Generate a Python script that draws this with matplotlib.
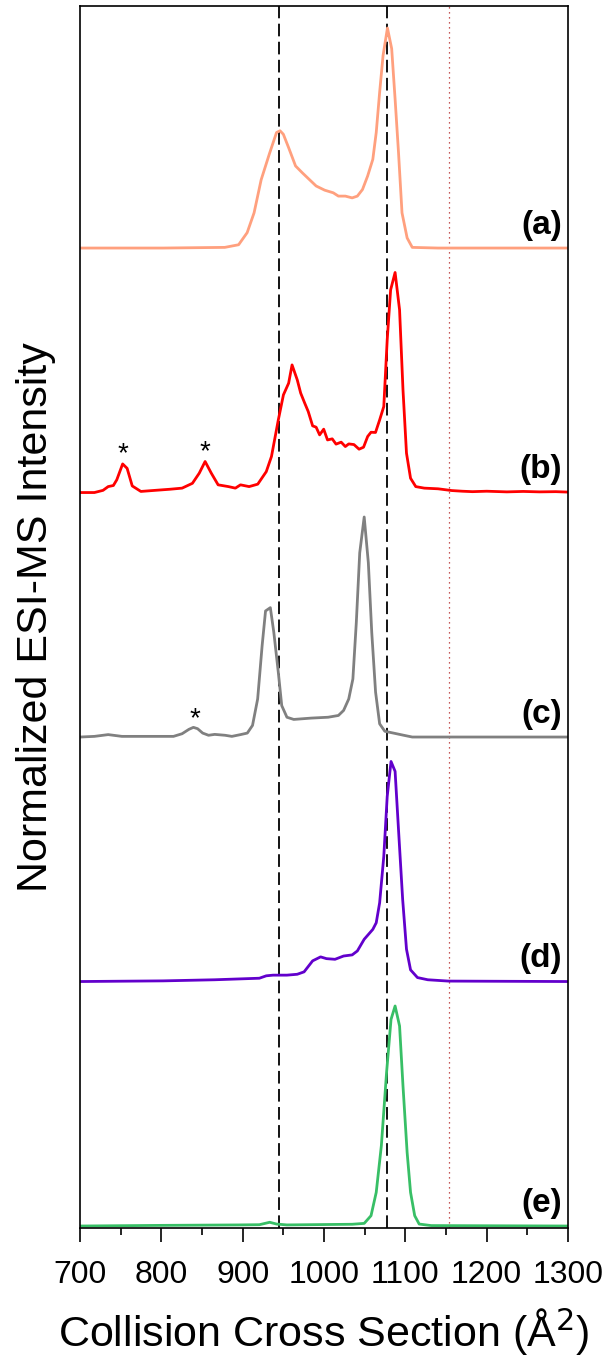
import numpy as np
import matplotlib
matplotlib.use("Agg")
import matplotlib.pyplot as plt

plt.rcParams['font.family'] = ['Liberation Sans', 'DejaVu Sans']

# trace (a)
ccs_a = [700, 802, 878, 895, 905.5, 914, 922.7, 933, 941.6, 945.9, 950, 956.4, 965, 973.3,
         981.8, 990.3, 1000.8, 1011.4, 1017.7, 1026.2, 1034.6, 1041, 1047.3, 1053.6, 1060,
         1064.2, 1068.4, 1072.6, 1078, 1083.2, 1087.4, 1091.6, 1095.9, 1102.2, 1108.5, 1140, 1300]
int_a = [0, 0, 0.003, 0.015, 0.07, 0.16, 0.31, 0.43, 0.525, 0.533, 0.517, 0.457, 0.373, 0.342,
         0.312, 0.282, 0.263, 0.251, 0.236, 0.236, 0.228, 0.236, 0.266, 0.327, 0.403,
         0.525, 0.708, 0.875, 1.0, 0.906, 0.677, 0.434, 0.16, 0.046, 0.003, 0, 0]

# trace (b)
ccs_b = [700, 717.7, 728.3, 734.6, 741, 745.2, 752.4, 757.9, 764.2, 774.8, 785.3, 810.7, 825.5,
         838.2, 846.6, 853.8, 861.4, 869.8, 882.5, 891, 897.3, 907.9, 918.5, 929, 935.4, 943.8,
         950.1, 956.5, 960.7, 967.1, 971.3, 976.3, 980.6, 986, 990.3, 994.6, 999.6, 1004.3,
         1010.1, 1014.8, 1021.1, 1026.2, 1030.4, 1036.8, 1043.1, 1048.6, 1053.7, 1057.8,
         1063.3, 1068.4, 1073.5, 1077.7, 1081.9, 1087.4, 1092.9, 1097.1, 1101.4, 1106.4,
         1112.8, 1123.3, 1140.2, 1157.1, 1170, 1182.5, 1200, 1224.8, 1245, 1265, 1285, 1300]
int_b = [0, 0, 0.01, 0.027, 0.032, 0.058, 0.13, 0.11, 0.03, 0.005, 0.008, 0.015, 0.02,
         0.042, 0.088, 0.141, 0.088, 0.035, 0.027, 0.02, 0.035, 0.027, 0.038, 0.095, 0.164, 0.33,
         0.444, 0.497, 0.58, 0.512, 0.452, 0.406, 0.368, 0.303, 0.297, 0.262, 0.288, 0.239,
         0.244, 0.22, 0.229, 0.209, 0.221, 0.218, 0.197, 0.206, 0.255, 0.274,
         0.273, 0.33, 0.391, 0.694, 0.921, 1.0, 0.83, 0.467, 0.179, 0.065,
         0.027, 0.02, 0.017, 0.009, 0.006, 0.004, 0.006, 0.003, 0.005, 0.003, 0.004, 0.002]

# trace (c)
ccs_c = [700, 717.7, 734.6, 751.5, 814.9, 825.5, 833.9, 839.4, 844.5, 850.8, 858, 865.6, 878.3,
         886.7, 897.3, 905.7, 912.1, 918.4, 923.9, 928.1, 934, 938.3, 943.8, 948, 954.4, 962.8,
         984, 1005.1, 1017.7, 1024.1, 1030.4, 1035.5, 1039.7, 1043.9, 1049.4, 1054.5, 1058.7,
         1063.4, 1068.4, 1074.8, 1085.3, 1098, 1108.5, 1300]
int_c = [0, 0.003, 0.011, 0.003, 0.003, 0.015, 0.035, 0.044, 0.038, 0.018, 0.008, 0.012, 0.008,
         0.003, 0.011, 0.018, 0.053, 0.173, 0.415, 0.573, 0.588, 0.475, 0.294, 0.143, 0.09, 0.08,
         0.086, 0.09, 0.098, 0.121, 0.173, 0.264, 0.52, 0.837, 1.0, 0.792, 0.475,
         0.204, 0.06, 0.026, 0.018, 0.008, 0, 0]

# trace (d)
ccs_d = [700, 802.2, 865.6, 920.5, 929, 937.4, 954.4, 967.1, 975.5, 986, 995.8, 1003, 1013.5,
         1024.1, 1034.6, 1041, 1049.4, 1060, 1064.2, 1068.4, 1073.5, 1077.7, 1082.4, 1087.4,
         1091.6, 1096.7, 1101.4, 1106.4, 1114.9, 1127.6, 1153, 1300]
int_d = [0, 0.003, 0.008, 0.015, 0.026, 0.029, 0.029, 0.033, 0.044, 0.094, 0.112, 0.104, 0.101,
         0.116, 0.121, 0.139, 0.192, 0.237, 0.267, 0.358, 0.569, 0.841, 1.0, 0.955,
         0.69, 0.373, 0.147, 0.053, 0.018, 0.008, 0.002, 0]

# trace (e)
ccs_e = [700, 802.2, 895.2, 920.5, 933.2, 941.6, 954.4, 1034.6, 1049.4, 1057.8, 1064.2, 1070.5,
         1076.9, 1082.4, 1087.4, 1092.9, 1097.1, 1102.2, 1106.4, 1111.5, 1117, 1131.8, 1300]
int_e = [0, 0.003, 0.005, 0.006, 0.017, 0.009, 0.005, 0.008, 0.012, 0.047, 0.153, 0.365,
         0.697, 0.939, 1.0, 0.909, 0.637, 0.334, 0.153, 0.047, 0.009, 0.002, 0]

panel_labels = ['(a)', '(b)', '(c)', '(d)', '(e)']
colors = ['#FFA07E', '#FF0000', '#808080', '#6200CC', '#38BF66']

# asterisks marking minor peaks: (panel index, ccs, height)
stars = [(1, 753, 0.115), (1, 854, 0.125), (2, 841, 0.02)]

ref_lines = [944.5, 1078]
dotted_line = 1153.5

fig = plt.figure(figsize=(6.04, 13.62), dpi=100)
ax = fig.add_axes([0.1325, 0.0984, 0.8079, 0.8972])

traces = [(ccs_a, int_a), (ccs_b, int_b), (ccs_c, int_c), (ccs_d, int_d), (ccs_e, int_e)]
scale = 0.9
for i, (x, y) in enumerate(traces):
    offset = 4 - i
    ax.plot(x, np.array(y) * scale + offset, color=colors[i], lw=2)
    ax.text(1293, offset + 0.03, panel_labels[i], ha='right', va='bottom',
            fontsize=24, fontweight='bold')

for i, xs, ys in stars:
    ax.text(xs, ys * scale + (4 - i), '*', ha='center', va='bottom', fontsize=20)

for xv in ref_lines:
    ax.axvline(xv, color='black', lw=1.3, ls=(0, (7, 3)), zorder=0)
ax.axvline(dotted_line, color='#B22222', lw=0.9, ls=(0, (1, 3)), zorder=0)

ax.set_xlim(700, 1300)
ax.set_ylim(-0.008, 4.99)
ax.set_yticks([])
ax.set_xticks(range(700, 1301, 100))
ax.set_xticks(range(750, 1300, 100), minor=True)
ax.tick_params(axis='x', which='major', direction='out', length=10, width=1.2, labelsize=23, pad=13)
ax.tick_params(axis='x', which='minor', direction='out', length=5, width=1.2)
for s in ax.spines.values():
    s.set_linewidth(1.2)

ax.set_xlabel('Collision Cross Section (Å$^2$)', fontsize=31, labelpad=12)
ax.set_ylabel('Normalized ESI-MS Intensity', fontsize=31)
ax.yaxis.set_label_coords(-0.05, 0.5)

fig.savefig('out.png', dpi=100)
